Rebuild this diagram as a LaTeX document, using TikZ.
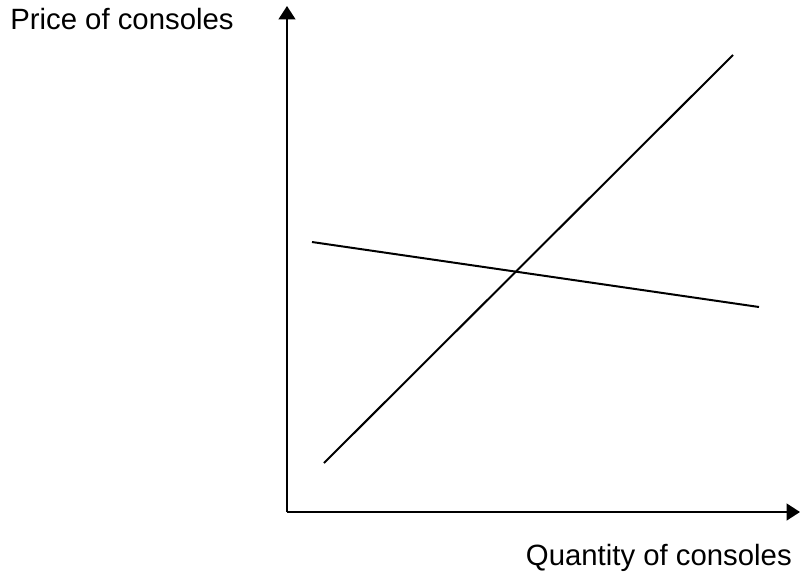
\documentclass[tikz,border=0pt]{standalone}
\usepackage{fontspec}
\setmainfont{Liberation Sans}
\usetikzlibrary{arrows.meta,positioning}

\begin{document}
\begin{tikzpicture}[x=0.75pt,y=-0.75pt,
  axis/.style={line width=1.6pt,-{Triangle[length=10pt,width=12.5pt]}},
  curve/.style={line width=1.5pt},
  axlabel/.style={inner sep=0pt,font=\fontsize{22}{26}\selectfont}]
  \useasboundingbox (0,0) rectangle (800,576);
  % axes
  \coordinate (origin) at (287,512);
  \coordinate (ytip) at (287,6);
  \coordinate (xtip) at (800,512);
  \draw[axis] (origin) -- (ytip);
  \draw[axis] (origin) -- (xtip);
  \node[axlabel,anchor=base west] (plabel) at (10,29) {Price of consoles};
  \node[axlabel,anchor=base east] (qlabel) at (792,565) {Quantity of consoles};
  % supply and demand
  \coordinate (s0) at (324,463); \coordinate (s1) at (733,55);
  \coordinate (d0) at (312,242); \coordinate (d1) at (759,307);
  \draw[curve] (s0) -- (s1);
  \draw[curve] (d0) -- (d1);
\end{tikzpicture}
\end{document}
